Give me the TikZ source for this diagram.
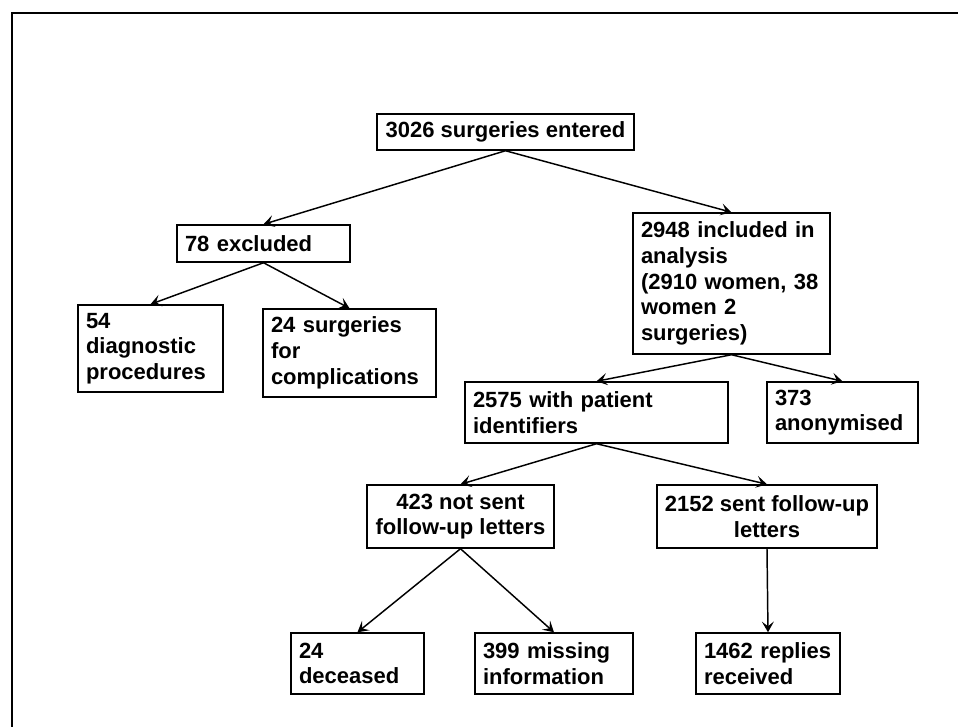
\documentclass[tikz,border=0pt]{standalone}
\usepackage{fontspec}
\setmainfont{Liberation Sans}
\usetikzlibrary{arrows.meta}

\begin{document}
\begin{tikzpicture}[x=0.75pt, y=-0.75pt, >={Stealth[length=8pt, width=9pt, inset=3.5pt]},
  box/.style={draw, line width=1.1pt, inner xsep=6pt, inner ysep=2pt, align=left,
    font=\fontsize{16.5}{19.3}\selectfont\bfseries},
  link/.style={->, line width=1.1pt}]
\clip (0,0) rectangle (958,726);
\draw[line width=1.7pt] (12,740) -- (12,13) -- (970,13);
% first row
\node[box, align=center, minimum width=192.75pt, minimum height=27pt] (top) at (505.5,132) {3026 surgeries entered};
\node[box, text width=117.75pt, minimum height=27.75pt] (excl) at (263.5,243.5) {78 excluded};
\node[box, text width=135.75pt, minimum height=105.75pt] (incl) at (731.5,283.5) {2948 included in\\analysis\\(2910 women, 38\\women 2\\surgeries)};
% excluded ones
\node[box, text width=96.75pt, minimum height=65.25pt] (diag) at (150.5,348.5) {54\\diagnostic\\procedures};
\node[box, text width=117.75pt, minimum height=66pt] (compl) at (349.5,353) {24 surgeries\\for\\complications};
% included ones
\node[box, text width=185.25pt, minimum height=45.75pt] (ident) at (596.5,412.5) {2575 with patient\\identifiers};
\node[box, text width=101.25pt, minimum height=45.75pt] (anon) at (842.5,412.5) {373\\anonymised};
\node[box, align=center, minimum width=140.25pt, minimum height=47.25pt] (notsent) at (460.5,516.5) {423 not sent\\follow-up letters};
\node[box, align=center, minimum width=165pt, minimum height=47.25pt] (sent) at (767,516.5) {2152 sent follow-up\\letters};
% last row
\node[box, text width=87.75pt, minimum height=45.75pt] (dec) at (357.5,663.5) {24\\deceased};
\node[box, text width=106.5pt, minimum height=45.75pt] (miss) at (554,663.5) {399 missing\\information};
\node[box, text width=96pt, minimum height=45.75pt] (repl) at (768,663.5) {1462 replies\\received};
% arrows
\draw[link] (top.south) -- (excl.north);
\draw[link] (top.south) -- (incl.north);
\draw[link] (excl.south) -- (diag.north);
\draw[link] (excl.south) -- (compl.north);
\draw[link] (incl.south) -- (ident.north);
\draw[link] (incl.south) -- (anon.north);
\draw[link] (ident.south) -- (notsent.north);
\draw[link] (ident.south) -- (sent.north);
\draw[link] (notsent.south) -- (dec.north);
\draw[link] (notsent.south) -- (miss.north);
\draw[link] (sent.south) -- (repl.north);
\end{tikzpicture}
\end{document}
